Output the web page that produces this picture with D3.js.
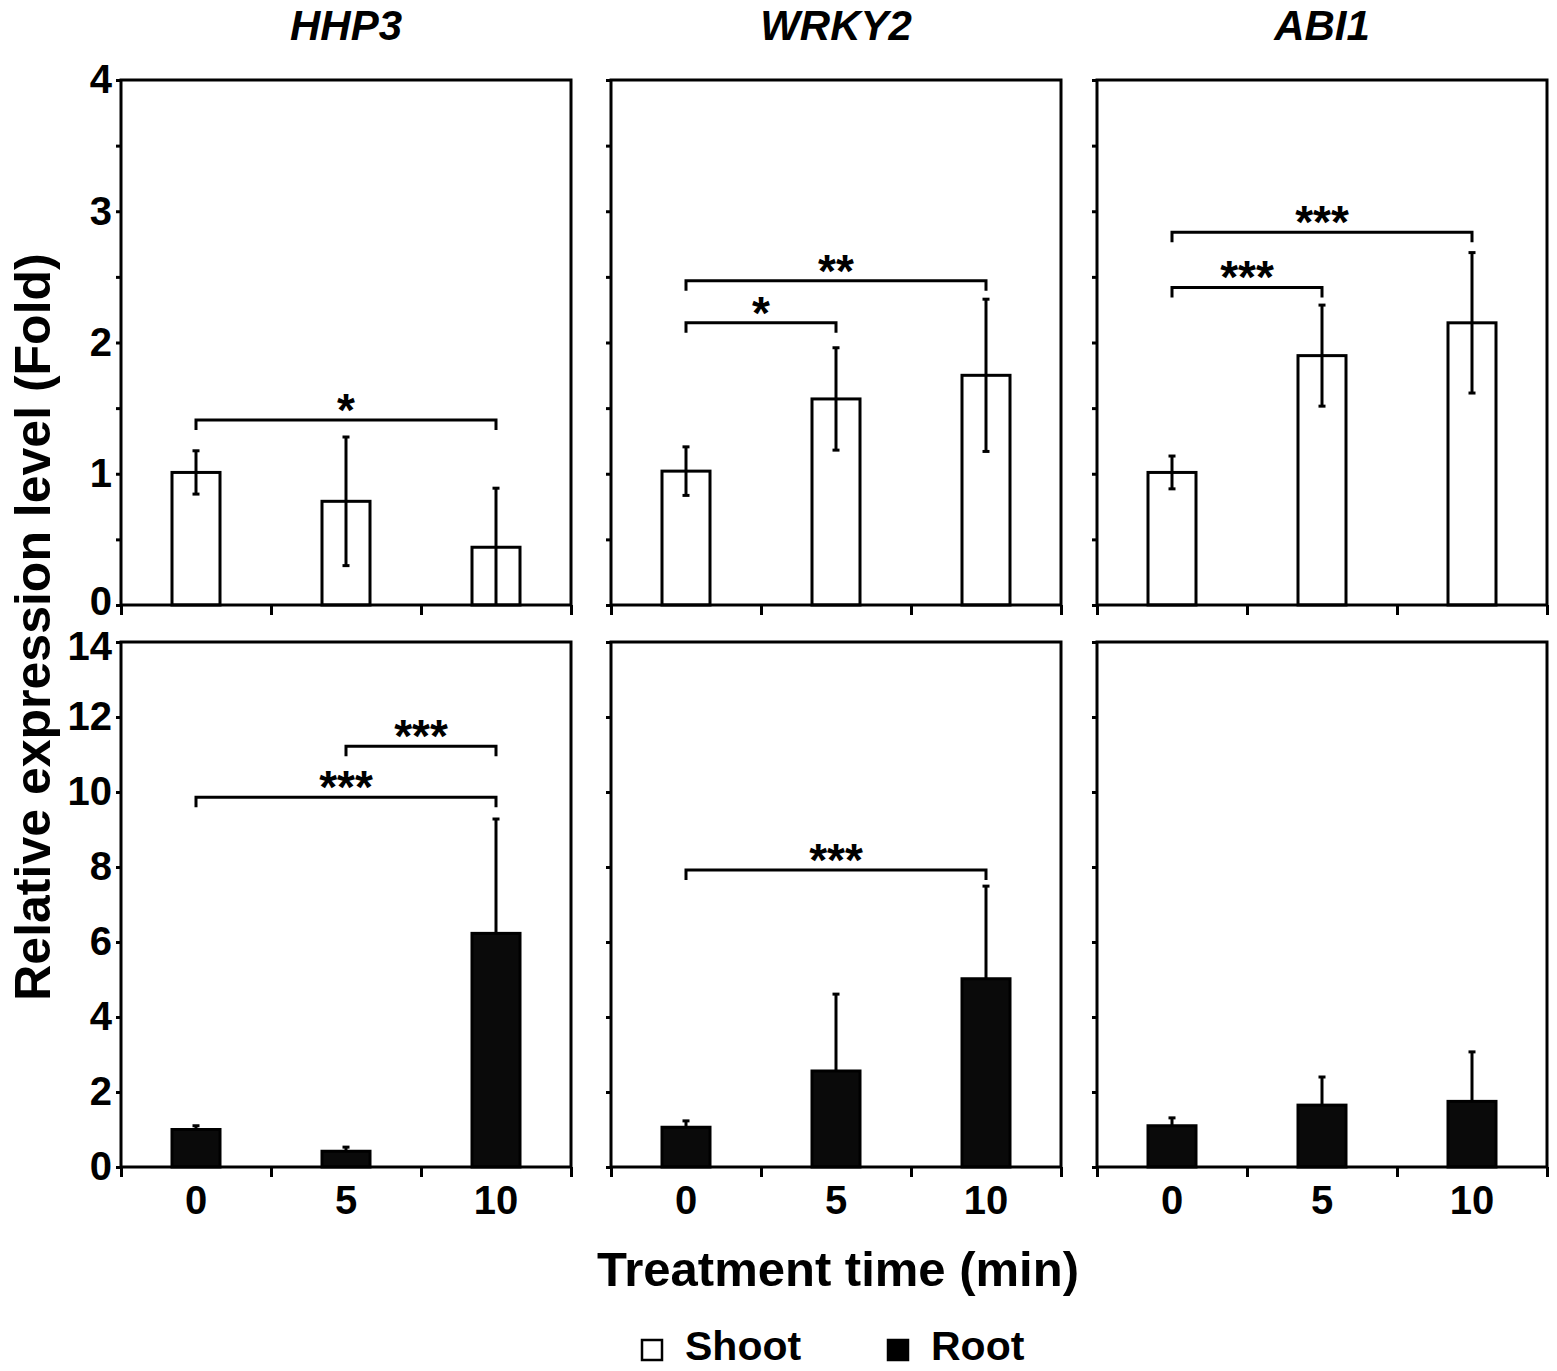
<!DOCTYPE html>
<html>
<head>
<meta charset="utf-8">
<script src="https://cdn.jsdelivr.net/npm/d3@7"></script>
<style>
  body { margin: 0; background: #fff; }
  svg text { font-family: "Liberation Sans", Arial, sans-serif; font-weight: bold; fill: #000; }
  .axis path, .axis line { stroke: #000; stroke-width: 3; }
  .axis .domain { display: none; }
</style>
</head>
<body>
<div id="chart"></div>
<script>
// Data
const genes = ["HHP3", "WRKY2", "ABI1"];
const times = ["0", "5", "10"];

// shoot (top row), mean and SE per gene
const shootMean = [[1.01, 0.79, 0.44], [1.02, 1.57, 1.75], [1.01, 1.90, 2.15]];
const shootErr = [[0.165, 0.49, 0.45], [0.185, 0.39, 0.58], [0.125, 0.385, 0.535]];

// root (bottom row)
const rootMean = [[1.0, 0.42, 6.23], [1.06, 2.56, 5.02], [1.10, 1.65, 1.75]];
const rootErr = [[0.1, 0.11, 3.05], [0.17, 2.05, 2.47], [0.21, 0.75, 1.32]];

// significance brackets: gene index, from, to, height, label
const shootSig = [
  [0, 0, 2, 1.41, "*"],
  [1, 0, 1, 2.15, "*"],
  [1, 0, 2, 2.47, "**"],
  [2, 0, 1, 2.42, "***"],
  [2, 0, 2, 2.84, "***"]
];
const rootSig = [
  [0, 1, 2, 11.22, "***"],
  [0, 0, 2, 9.86, "***"],
  [1, 0, 2, 7.92, "***"]
];

const shootTicks = d3.range(0, 4.01, 0.5);
const rootTicks = d3.range(0, 14.01, 2);

const W = 1557, H = 1371;
const colLeft = [121, 611, 1097];
const panelW = 450, panelH = 525;
const rowTop = [80, 642];
const barW = 48;

const svg = d3.select("#chart").append("svg")
  .attr("width", W).attr("height", H);

const rows = [
  { mean: shootMean, err: shootErr, sig: shootSig, max: 4, ticks: shootTicks, fill: "#fff", both: true },
  { mean: rootMean, err: rootErr, sig: rootSig, max: 14, ticks: rootTicks, fill: "#0a0a0a", both: false }
];

rows.forEach(function (row, r) {
  genes.forEach(function (gene, g) {
    let p = svg.append("g")
      .attr("transform", "translate(" + colLeft[g] + "," + rowTop[r] + ")");

    let x = d3.scaleBand().domain(times).range([0, panelW]);
    let edge = d3.scaleLinear().domain([0, 3]).range([0, panelW]);
    let y = d3.scaleLinear().domain([0, row.max]).range([panelH, 0]);
    let cx = function (i) { return x(times[i]) + x.bandwidth() / 2; };

    // y axis ticks
    p.append("g").attr("class", "axis")
      .call(d3.axisLeft(y).tickValues(row.ticks).tickSize(5).tickPadding(4)
        .tickFormat(function (d) { return (g === 0 && Number.isInteger(d)) ? d : ""; }))
      .selectAll("text")
      .style("font-size", "40px")
      // nudge the labels where the two rows meet, as in the original
      .attr("dy", function (d) {
        if (r === 0 && d === 0) return "0.24em";
        if (r === 1 && d === row.max) return "0.44em";
        return "0.32em";
      });

    // x axis ticks at category edges
    p.append("g").attr("class", "axis")
      .attr("transform", "translate(0," + panelH + ")")
      .call(d3.axisBottom(edge).tickValues([0, 1, 2, 3]).tickSize(10).tickFormat(""));

    // x labels only on bottom row
    if (r === 1) {
      p.append("g").attr("class", "axis")
        .attr("transform", "translate(0," + panelH + ")")
        .call(d3.axisBottom(x).tickSize(0).tickPadding(19))
        .selectAll("text").style("font-size", "40px");
    }

    let vals = times.map(function (t, i) {
      return { i: i, m: row.mean[g][i], e: row.err[g][i] };
    });

    // bars
    p.selectAll(".bar").data(vals).enter().append("rect")
      .attr("x", function (d) { return cx(d.i) - barW / 2; })
      .attr("y", function (d) { return y(d.m); })
      .attr("width", barW)
      .attr("height", function (d) { return y(0) - y(d.m); })
      .attr("fill", row.fill)
      .attr("stroke", "#000")
      .attr("stroke-width", 3);

    // error bars
    let eb = p.selectAll(".err").data(vals).enter().append("g");
    eb.append("line")
      .attr("x1", function (d) { return cx(d.i); })
      .attr("x2", function (d) { return cx(d.i); })
      .attr("y1", function (d) { return y(row.both ? Math.max(0, d.m - d.e) : d.m); })
      .attr("y2", function (d) { return y(d.m + d.e); })
      .attr("stroke", "#000").attr("stroke-width", 3);
    eb.append("line")
      .attr("x1", function (d) { return cx(d.i) - 3.5; })
      .attr("x2", function (d) { return cx(d.i) + 3.5; })
      .attr("y1", function (d) { return y(d.m + d.e); })
      .attr("y2", function (d) { return y(d.m + d.e); })
      .attr("stroke", "#000").attr("stroke-width", 3);
    if (row.both) {
      eb.filter(function (d) { return d.m - d.e > 0; }).append("line")
        .attr("x1", function (d) { return cx(d.i) - 3.5; })
        .attr("x2", function (d) { return cx(d.i) + 3.5; })
        .attr("y1", function (d) { return y(d.m - d.e); })
        .attr("y2", function (d) { return y(d.m - d.e); })
        .attr("stroke", "#000").attr("stroke-width", 3);
    }

    // significance brackets
    row.sig.filter(function (s) { return s[0] === g; }).forEach(function (s) {
      let x1 = cx(s[1]), x2 = cx(s[2]), yy = y(s[3]);
      p.append("path")
        .attr("d", "M" + x1 + "," + (yy + 10) + "V" + yy + "H" + x2 + "V" + (yy + 10))
        .attr("fill", "none").attr("stroke", "#000").attr("stroke-width", 3);
      p.append("text")
        .attr("x", (x1 + x2) / 2)
        .attr("y", yy + 6)
        .attr("text-anchor", "middle")
        .style("font-size", "46px")
        .text(s[4]);
    });

    // panel frame
    p.append("rect")
      .attr("width", panelW).attr("height", panelH)
      .attr("fill", "none").attr("stroke", "#000").attr("stroke-width", 3);

    // gene title
    if (r === 0) {
      p.append("text")
        .attr("x", panelW / 2).attr("y", -40)
        .attr("text-anchor", "middle")
        .style("font-size", "42px").style("font-style", "italic")
        .text(gene);
    }
  });
});

// axis titles
svg.append("text")
  .attr("transform", "translate(50,627) rotate(-90)")
  .attr("text-anchor", "middle")
  .style("font-size", "50px")
  .text("Relative expression level (Fold)");

svg.append("text")
  .attr("x", 838).attr("y", 1286)
  .attr("text-anchor", "middle")
  .style("font-size", "49px")
  .text("Treatment time (min)");

// legend
const legendItems = [
  { label: "Shoot", fill: "#fff", x: 642 },
  { label: "Root", fill: "#000", x: 888 }
];
legendItems.forEach(function (d) {
  svg.append("rect")
    .attr("x", d.x).attr("y", 1340)
    .attr("width", 20).attr("height", 20)
    .attr("fill", d.fill).attr("stroke", "#000").attr("stroke-width", 2.5);
  svg.append("text")
    .attr("x", d.x + 43).attr("y", 1360)
    .style("font-size", "41px")
    .text(d.label);
});
</script>
</body>
</html>
